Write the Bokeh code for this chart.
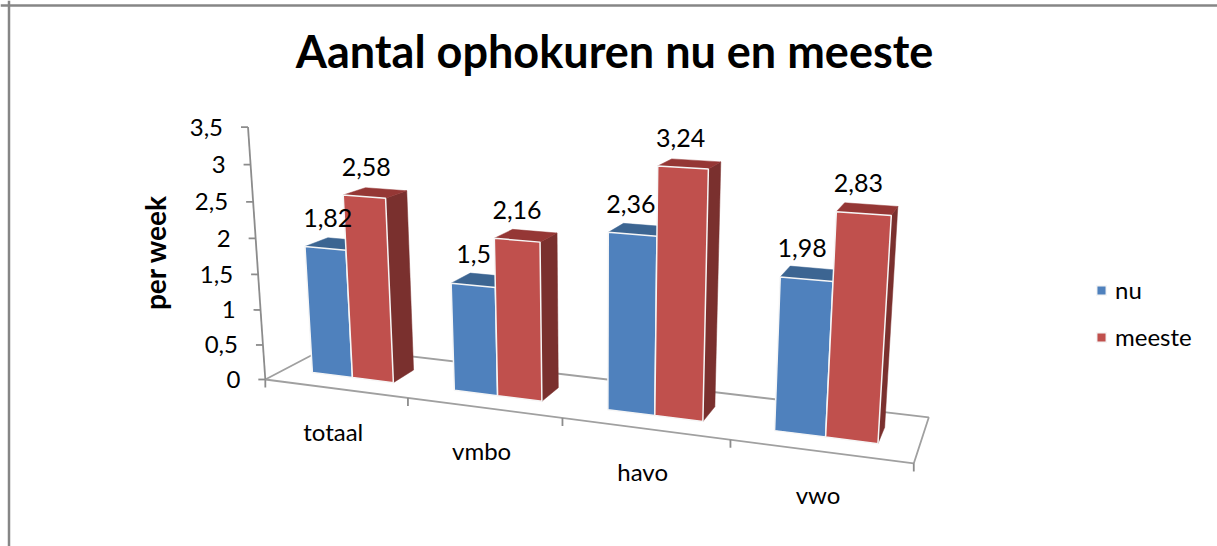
import numpy as np
from bokeh.plotting import figure
from bokeh.models import Range1d, Span, Legend, LegendItem
from bokeh.core.properties import value
from bokeh.embed import file_html
from bokeh.resources import INLINE

# ---- chart data ----
categories = ["totaal", "vmbo", "havo", "vwo"]
nu = [1.82, 1.5, 2.36, 1.98]
meeste = [2.58, 2.16, 3.24, 2.83]
y_ticks = [0, 0.5, 1, 1.5, 2, 2.5, 3, 3.5]
title = "Aantal ophokuren nu en meeste"
y_title = "per week"

# ---- layout of the 3D box (category position, depth, value) ----
W, H = 1217, 546
FONT = "Lato"
BLUE, BLUE_TOP, BLUE_SIDE = "#4F81BD", "#3C6592", "#2F4D71"
RED, RED_TOP, RED_SIDE = "#C0504D", "#953735", "#7A302E"
AXIS = "#8C8C8C"
U0, U1, U2 = 0.20, 0.49, 0.78   # bar edges within a category
W0, W1 = 0.30, 0.66             # bar front and back in the depth

def nl(v):
    return f"{v:g}".replace(".", ",")

# camera calibration: box position -> place on the canvas
cal_box = [(0, 0, 0), (4, 0, 0), (4, 1, 0), (0, 1, 0), (0, 0, 3.5), (0, 0, 2),
           (1, 0, 0), (2, 0, 0), (3, 0, 0)]
cal_img = [(265, 378), (912, 462), (928, 418), (328, 346), (247, 126), (256, 238),
           (407, 398), (563, 419), (730, 442)]
for i, (a, b, c, d) in enumerate([((306, 246), (312, 372), (344, 250), (351, 377)),
                                  ((452, 283), (455, 390), (494, 288), (496, 395)),
                                  ((609, 232), (608, 409), (656, 236), (653, 415)),
                                  ((782, 277), (776, 430), (832, 281), (826, 436))]):
    cal_box += [(i + U0, W0, nu[i]), (i + U0, W0, 0), (i + U1, W0, nu[i]), (i + U1, W0, 0)]
    cal_img += [a, b, c, d]
for i, (a, b) in enumerate([((385, 198), (392, 381)), ((539, 242), (540, 400)),
                            ((707, 168), (703, 420)), ((890, 214), (877, 442))]):
    cal_box += [(i + U2, W0, meeste[i]), (i + U2, W0, 0)]
    cal_img += [a, b]

A, B = [], []
for (X, Y, Z), (x, y) in zip(cal_box, cal_img):
    A.append([X, Y, Z, 1, 0, 0, 0, 0, -x * X, -x * Y, -x * Z]); B.append(x)
    A.append([0, 0, 0, 0, X, Y, Z, 1, -y * X, -y * Y, -y * Z]); B.append(y)
sol = np.linalg.lstsq(np.array(A, float), np.array(B, float), rcond=None)[0]
P = np.append(sol, 1.0).reshape(3, 4)

def proj(u, w, h):
    v = P @ np.array([u, w, h, 1.0])
    return float(v[0] / v[2]), float(v[1] / v[2])

def poly(*pts):
    q = [proj(*t) for t in pts]
    return [a for a, _ in q], [b for _, b in q]

p = figure(width=W, height=H, x_range=Range1d(0, W), y_range=Range1d(H, 0),
           output_backend="svg", toolbar_location=None, min_border=0,
           outline_line_color=None, background_fill_color="white",
           border_fill_color="white")
p.xaxis.visible = False
p.yaxis.visible = False
p.grid.visible = False

# frame of the chart area (top and left are visible in the picture)
p.add_layout(Span(location=5, dimension="width", line_color="#868686", line_width=2.5))
p.add_layout(Span(location=8.5, dimension="height", line_color="#868686", line_width=2.5))

# floor and axes
fx, fy = poly((0, 0, 0), (4, 0, 0), (4, 1, 0), (0, 1, 0), (0, 0, 0))
p.line(fx, fy, line_color="#A0A0A0", line_width=1.8)
ax, ay = poly((0, 0, 0), (0, 0, max(y_ticks)))
p.line(ax, ay, line_color=AXIS, line_width=1.8)
tx = [proj(0, 0, t) for t in y_ticks]
p.multi_line([[a - 7, a] for a, _ in tx], [[b, b] for _, b in tx], line_color=AXIS, line_width=1.8)
cx = [proj(i, 0, 0) for i in range(len(categories) + 1)]
p.multi_line([[a, a] for a, _ in cx], [[b, b + 8] for _, b in cx], line_color=AXIS, line_width=1.8)

# y tick labels
p.text(x=[a - 25 for a, _ in tx], y=[b for _, b in tx], text=[nl(t) for t in y_ticks],
       text_font=value(FONT), text_font_size="24px", text_color="black",
       text_align="right", text_baseline="middle")

# category labels
cl = [proj(i + 0.5, 0, 0) for i in range(len(categories))]
p.text(x=[a - 2 for a, _ in cl], y=[b + 43 for _, b in cl], text=categories,
       text_font=value(FONT), text_font_size="24px", text_color="black",
       text_align="center", text_baseline="middle")

# bars
def bar_faces(i, v, a, b):
    front = poly((i + a, W0, 0), (i + b, W0, 0), (i + b, W0, v), (i + a, W0, v))
    top = poly((i + a, W0, v), (i + b, W0, v), (i + b, W1, v), (i + a, W1, v))
    side = poly((i + b, W0, 0), (i + b, W1, 0), (i + b, W1, v), (i + b, W0, v))
    return front, top, side

legend_renderers = {}
for i in range(len(categories)):
    for name, vals, a, b, c_f, c_t, c_s in (("nu", nu, U0, U1, BLUE, BLUE_TOP, BLUE_SIDE),
                                           ("meeste", meeste, U1, U2, RED, RED_TOP, RED_SIDE)):
        front, top, side = bar_faces(i, vals[i], a, b)
        p.patch(side[0], side[1], fill_color=c_s, line_color=c_s, line_width=0.5)
        p.patch(top[0], top[1], fill_color=c_t, line_color=c_t, line_width=0.5)
        r = p.patch(front[0], front[1], fill_color=c_f, line_color="#F6F6F6", line_width=1.5)
        legend_renderers.setdefault(name, r)

# value labels
for vals, a, b in ((nu, U0, U1), (meeste, U1, U2)):
    pts = [proj(i + (a + b) / 2, (W0 + W1) / 2, vals[i]) for i in range(len(categories))]
    p.text(x=[q[0] - 9 for q in pts], y=[q[1] - 26 for q in pts], text=[nl(v) for v in vals],
           text_font=value(FONT), text_font_size="25px", text_color="black",
           text_align="center", text_baseline="middle")

# titles
p.text(x=[614], y=[50], text=[title], text_font=value(FONT), text_font_style="bold",
       text_font_size="45px", text_color="black", text_align="center", text_baseline="middle")
p.text(x=[154], y=[252], text=[y_title], angle=[np.pi / 2], text_font=value(FONT),
       text_font_style="bold", text_font_size="28px", text_color="black",
       text_align="center", text_baseline="middle")

legend = Legend(items=[LegendItem(label=n, renderers=[legend_renderers[n]]) for n in ("nu", "meeste")],
                location=(1095, 195), orientation="vertical", background_fill_alpha=0,
                border_line_color=None, padding=0, margin=0, spacing=18, glyph_width=12,
                glyph_height=12, label_standoff=8, label_text_font=FONT,
                label_text_font_size="24px", label_text_color="black")
p.add_layout(legend)

open("out.html", "w").write(file_html(p, INLINE))
